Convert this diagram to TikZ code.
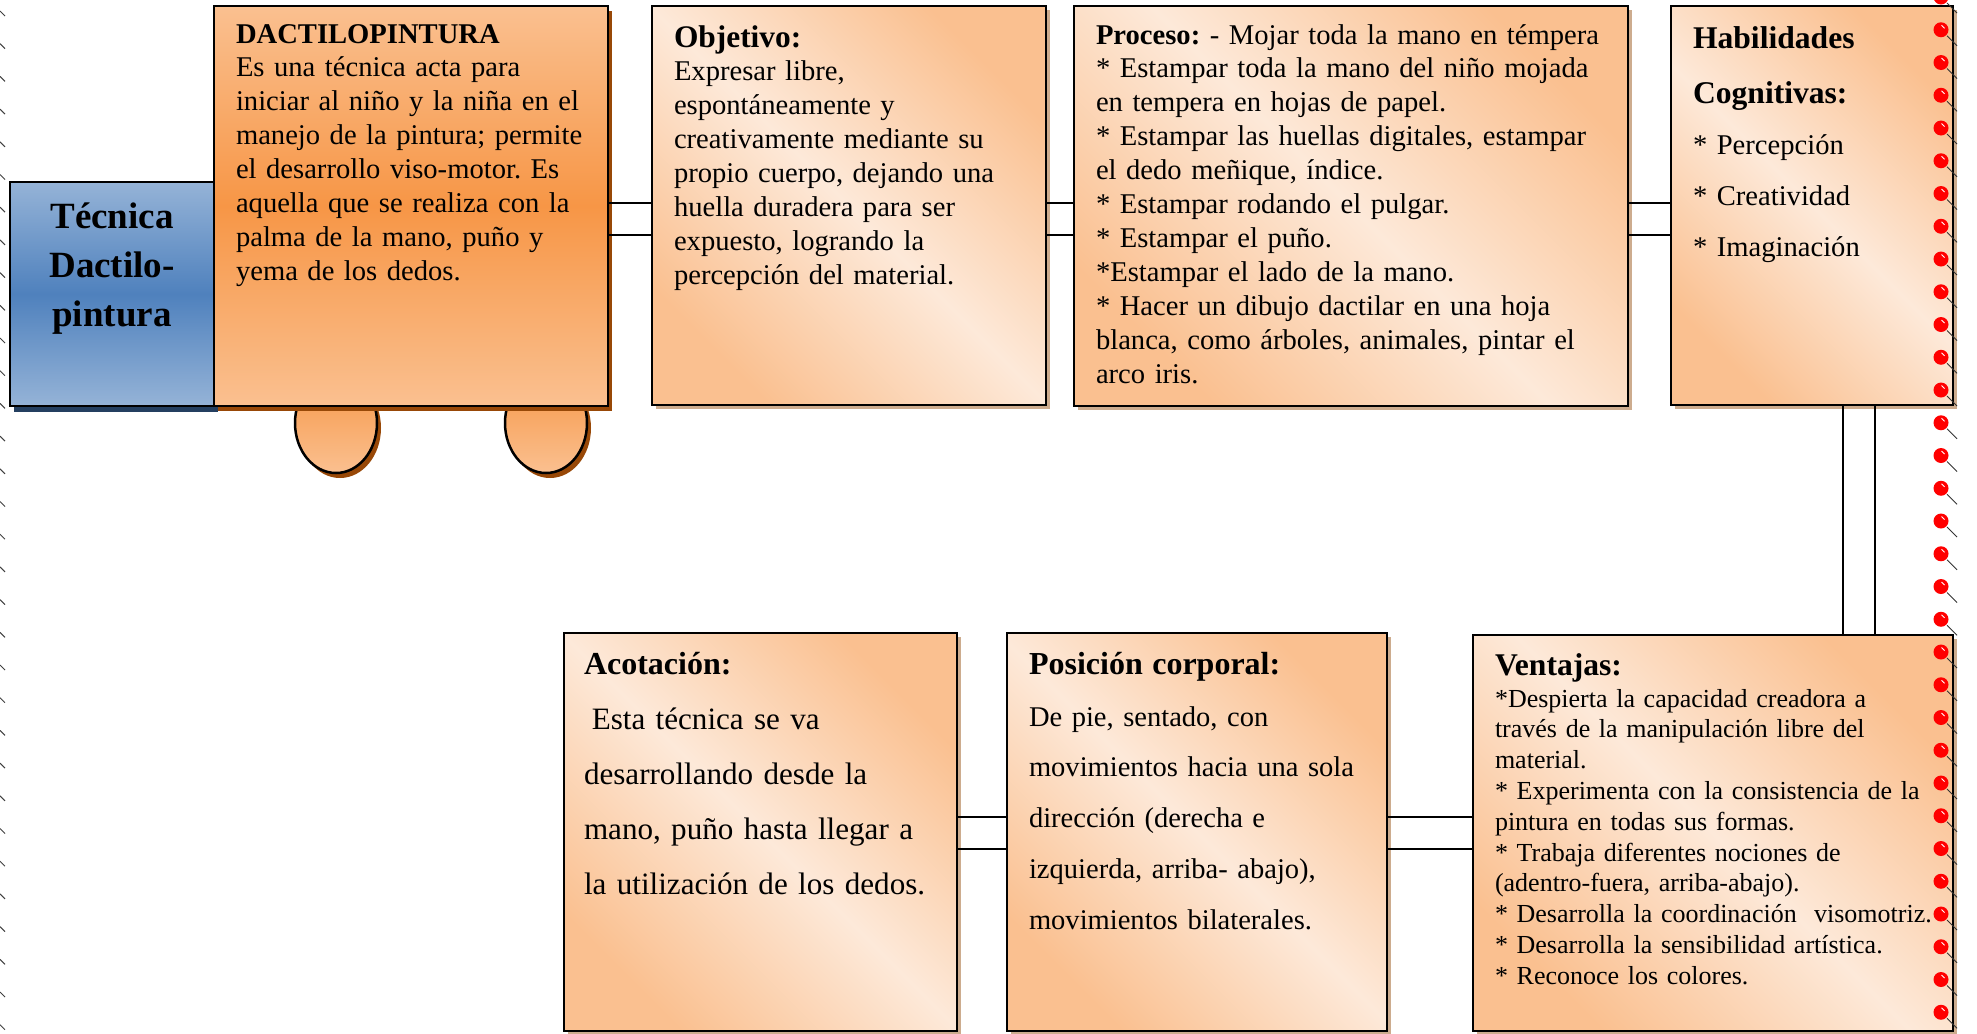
\documentclass[tikz,border=0pt]{standalone}
\usepackage{fontspec}
\setmainfont{Liberation Serif}
\usetikzlibrary{shadows}
\frenchspacing
\definecolor{orD}{HTML}{FAC090}
\definecolor{orL}{HTML}{FDE9D9}
\definecolor{orM}{HTML}{F79646}
\definecolor{blL}{HTML}{95B3D7}
\definecolor{blM}{HTML}{4F81BD}
\definecolor{blS}{HTML}{243F60}
\definecolor{brS}{HTML}{984807}
\definecolor{tnS}{RGB}{205,172,142}
\definecolor{pinred}{HTML}{FF0000}
\begin{document}
\begin{tikzpicture}[x=0.5pt,y=-0.5pt,
  box/.style={draw=black, line width=1.25pt, inner sep=0pt, outer sep=0pt, anchor=north west, rectangle},
  peach/.style={box, top color=orD, bottom color=orD, middle color=orL, shading angle=-45,
     drop shadow={fill=tnS, opacity=1, shadow xshift=2pt, shadow yshift=-2pt}},
  txt/.style={anchor=base west, inner sep=0pt, outer sep=0pt, align=left, font=\fontsize{14.3}{16.95}\selectfont},
  link/.style={line width=0.9pt, black},
  tick/.style={line width=0.5pt, black!75}
]
\useasboundingbox (0,0) rectangle (1977,1034);

% left margin ticks
\foreach \k in {0,...,31}{
  \draw[tick] (0,{11+32.7*\k}) -- (5,{16+32.7*\k});
}

% Tecnica box
\node[box, minimum width=102pt, minimum height=112pt,
  top color=blL, bottom color=blL, middle color=blM,
  drop shadow={fill=blS, opacity=1, shadow xshift=2pt, shadow yshift=-3pt}] (tec) at (10,182) {};

% wheels
\fill[brS] (340,428) ellipse [x radius=20.5pt, y radius=25pt];
\fill[brS] (550,428) ellipse [x radius=20.5pt, y radius=25pt];
\shade[top color=orM, bottom color=orD, draw=black, line width=1.25pt] (336,423) ellipse [x radius=20.5pt, y radius=25pt];
\shade[top color=orM, bottom color=orD, draw=black, line width=1.25pt] (546,423) ellipse [x radius=20.5pt, y radius=25pt];

% Dactilopintura box
\node[box, minimum width=197pt, minimum height=200pt,
  top color=orD, bottom color=orD, middle color=orM,
  drop shadow={fill=brS, opacity=1, shadow xshift=2pt, shadow yshift=-2.5pt}] (dac) at (214,6) {};

% other boxes
\node[peach, minimum width=197pt, minimum height=199.5pt] (obj) at (652,6) {};
\node[peach, minimum width=277pt, minimum height=200pt] (pro) at (1074,6) {};
\node[peach, minimum width=141pt, minimum height=199.5pt] (hab) at (1671,6) {};
\node[peach, minimum width=196.5pt, minimum height=199pt] (aco) at (564,633) {};
\node[peach, minimum width=190pt, minimum height=199pt] (pos) at (1007,633) {};
\node[peach, minimum width=240pt, minimum height=198pt] (ven) at (1473,635) {};

% connectors
\coordinate (h1) at (0,203);
\coordinate (h2) at (0,235);
\coordinate (h3) at (0,817);
\coordinate (h4) at (0,849);
\coordinate (v1) at (1843,0);
\coordinate (v2) at (1875,0);
\draw[link] (dac.east |- h1) -- (obj.west |- h1);
\draw[link] (dac.east |- h2) -- (obj.west |- h2);
\draw[link] (obj.east |- h1) -- (pro.west |- h1);
\draw[link] (obj.east |- h2) -- (pro.west |- h2);
\draw[link] (pro.east |- h1) -- (hab.west |- h1);
\draw[link] (pro.east |- h2) -- (hab.west |- h2);
\draw[link] (hab.south -| v1) -- (ven.north -| v1);
\draw[link] (hab.south -| v2) -- (ven.north -| v2);
\draw[link] (aco.east |- h3) -- (pos.west |- h3);
\draw[link] (aco.east |- h4) -- (pos.west |- h4);
\draw[link] (pos.east |- h3) -- (ven.west |- h3);
\draw[link] (pos.east |- h4) -- (ven.west |- h4);

% texts
\node[anchor=base, inner sep=0pt, align=center, text width=100pt,
  font=\fontsize{18.5}{24.5}\selectfont\bfseries] (tecT) at (112,228) {Técnica\\Dactilo-\\pintura};

\node[txt, text width=190pt] (dacT) at (236,43) {\textbf{DACTILOPINTURA}\\Es una técnica acta para\\iniciar al niño y la niña en el\\manejo de la pintura; permite\\el desarrollo viso-motor. Es\\aquella que se realiza con la\\palma de la mano, puño y\\yema de los dedos.};

\node[txt, text width=190pt] (objT) at (674,47) {{\fontsize{15.7}{16.95}\selectfont\bfseries Objetivo:}\\Expresar libre,\\espontáneamente y\\creativamente mediante su\\propio cuerpo, dejando una\\huella duradera para ser\\expuesto, logrando la\\percepción del material.};

\node[txt, text width=265pt] (proT) at (1096,44) {\textbf{Proceso:} - Mojar toda la mano en témpera\\{}* Estampar toda la mano del niño mojada\\en tempera en hojas de papel.\\{}* Estampar las huellas digitales, estampar\\el dedo meñique, índice.\\{}* Estampar rodando el pulgar.\\{}* Estampar el puño.\\{}*Estampar el lado de la mano.\\{}* Hacer un dibujo dactilar en una hoja\\blanca, como árboles, animales, pintar el\\arco iris.};

\node[txt, text width=135pt, font=\fontsize{14.3}{25.4}\selectfont] (habT) at (1693,48.5) {{\fontsize{15.8}{25.4}\selectfont\bfseries Habilidades}\\[2.2pt]{\fontsize{15.8}{25.4}\selectfont\bfseries Cognitivas:}\\{}* Percepción\\{}* Creatividad\\{}* Imaginación};

\node[txt, text width=190pt, font=\fontsize{15.55}{27.5}\selectfont] (acoT) at (584,674) {{\fontsize{16}{27.5}\selectfont\bfseries Acotación:}\\\hspace*{0.25em}Esta técnica se va\\desarrollando desde la\\mano, puño hasta llegar a\\la utilización de los dedos.};

\node[txt, text width=185pt, font=\fontsize{14.27}{25.4}\selectfont] (posT) at (1029,674) {{\fontsize{16}{25.4}\selectfont\bfseries Posición corporal:}\\[0.6pt]De pie, sentado, con\\movimientos hacia una sola\\dirección (derecha e\\izquierda, arriba- abajo),\\movimientos bilaterales.};

\node[txt, text width=235pt, font=\fontsize{13}{15.4}\selectfont] (venT) at (1495,675) {{\fontsize{15.8}{15.4}\selectfont\bfseries Ventajas:}\\[0.6pt]*Despierta la capacidad creadora a\\través de la manipulación libre del\\material.\\{}* Experimenta con la consistencia de la\\pintura en todas sus formas.\\{}* Trabaja diferentes nociones de\\(adentro-fuera, arriba-abajo).\\{}* Desarrolla la coordinación~ visomotriz.\\{}* Desarrolla la sensibilidad artística.\\{}* Reconoce los colores.};

% pins on the right edge
\foreach \k in {0,...,31}{
  \pgfmathsetmacro\py{-3+32.75*\k}
  \draw[line width=0.5pt, black!80] (1947,\py+6) -- (1957,\py+16);
  \fill[pinred] (1941,\py) circle[radius=3.75pt];
  \draw[white, line width=0.5pt] (1941.5,\py-4.5) -- (1944.5,\py-1.5);
}
\end{tikzpicture}
\end{document}
